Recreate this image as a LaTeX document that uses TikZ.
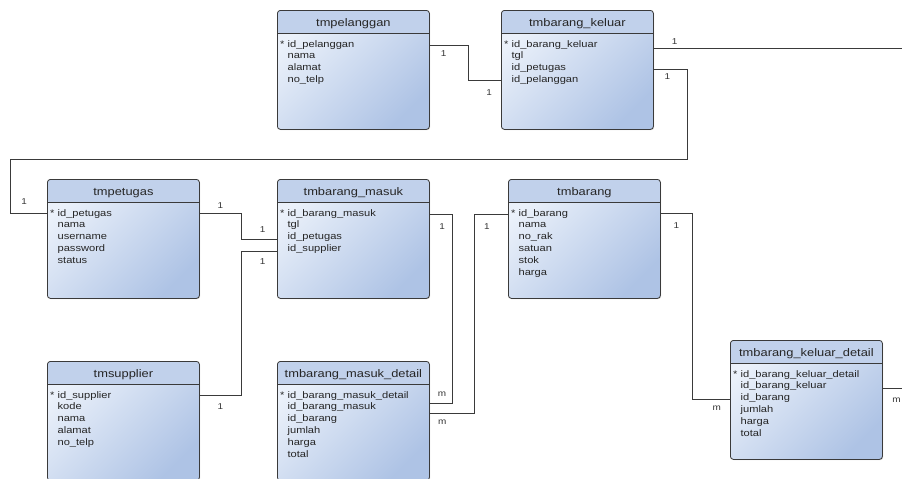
\documentclass[tikz,border=0pt]{standalone}
\usepackage{fontspec}
\setmainfont[FakeStretch=1.17]{Liberation Sans}
\usetikzlibrary{shadows}
\definecolor{garis}{RGB}{58,58,58}
\definecolor{kepala}{RGB}{193,209,235}
\definecolor{terang}{RGB}{235,241,250}
\definecolor{gelap}{RGB}{174,195,229}
\newcommand{\ind}{\hphantom{*~}}
\tikzset{font=\fontsize{9.5}{11.8}\selectfont,
  tabel/.style={draw=garis,line width=0.8pt,rounded corners=3pt,anchor=north west,
    minimum width=152pt,minimum height=119pt,inner sep=0pt,
    top color=terang,bottom color=gelap,shading angle=45,
    drop shadow={shadow xshift=0.8pt,shadow yshift=-0.8pt,opacity=0.35},
    path picture={
      \fill[kepala] (path picture bounding box.north west) rectangle ([yshift=-23pt]path picture bounding box.north east);
      \draw[garis,line width=0.8pt] ([yshift=-23pt]path picture bounding box.north west) -- ([yshift=-23pt]path picture bounding box.north east);}},
  judul/.style={font=\fontsize{11}{13}\selectfont,text=black!85,inner sep=0pt,anchor=base},
  kolom/.style={anchor=north west,align=left,inner sep=0pt,text=black!85},
  rel/.style={draw=garis,line width=0.7pt},
  lbl/.style={font=\fontsize{8.5}{10}\selectfont,inner sep=1pt,text=black!80}}

\begin{document}
\begin{tikzpicture}[x=1pt,y=-1pt]
\useasboundingbox (0,0) rectangle (902,479);
% tabel
\node[tabel] (pel) at (277,10) {};
\node[judul] (pelj) at ([yshift=-16.5pt]pel.north) {tmpelanggan};
\node[kolom] (pelk) at ([xshift=3pt,yshift=-30pt]pel.north west) {*~id\_pelanggan\\\ind nama\\\ind alamat\\\ind no\_telp};
\node[tabel] (kel) at (501,10) {};
\node[judul] (kelj) at ([yshift=-16.5pt]kel.north) {tmbarang\_keluar};
\node[kolom] (kelk) at ([xshift=3pt,yshift=-30pt]kel.north west) {*~id\_barang\_keluar\\\ind tgl\\\ind id\_petugas\\\ind id\_pelanggan};
\node[tabel] (pet) at (47,179) {};
\node[judul] (petj) at ([yshift=-16.5pt]pet.north) {tmpetugas};
\node[kolom] (petk) at ([xshift=3pt,yshift=-30pt]pet.north west) {*~id\_petugas\\\ind nama\\\ind username\\\ind password\\\ind status};
\node[tabel] (mas) at (277,179) {};
\node[judul] (masj) at ([yshift=-16.5pt]mas.north) {tmbarang\_masuk};
\node[kolom] (mask) at ([xshift=3pt,yshift=-30pt]mas.north west) {*~id\_barang\_masuk\\\ind tgl\\\ind id\_petugas\\\ind id\_supplier};
\node[tabel] (bar) at (508,179) {};
\node[judul] (barj) at ([yshift=-16.5pt]bar.north) {tmbarang};
\node[kolom] (bark) at ([xshift=3pt,yshift=-30pt]bar.north west) {*~id\_barang\\\ind nama\\\ind no\_rak\\\ind satuan\\\ind stok\\\ind harga};
\node[tabel] (sup) at (47,361) {};
\node[judul] (supj) at ([yshift=-16.5pt]sup.north) {tmsupplier};
\node[kolom] (supk) at ([xshift=3pt,yshift=-30pt]sup.north west) {*~id\_supplier\\\ind kode\\\ind nama\\\ind alamat\\\ind no\_telp};
\node[tabel] (masd) at (277,361) {};
\node[judul] (masdj) at ([yshift=-16.5pt]masd.north) {tmbarang\_masuk\_detail};
\node[kolom] (masdk) at ([xshift=3pt,yshift=-30pt]masd.north west) {*~id\_barang\_masuk\_detail\\\ind id\_barang\_masuk\\\ind id\_barang\\\ind jumlah\\\ind harga\\\ind total};
\node[tabel] (keld) at (730,340) {};
\node[judul] (keldj) at ([yshift=-16.5pt]keld.north) {tmbarang\_keluar\_detail};
\node[kolom] (keldk) at ([xshift=3pt,yshift=-30pt]keld.north west) {*~id\_barang\_keluar\_detail\\\ind id\_barang\_keluar\\\ind id\_barang\\\ind jumlah\\\ind harga\\\ind total};
\coordinate (kanan1) at (902,48);
\coordinate (kanan2) at (902,388);
% relasi
\draw[rel] (pel.east |- 0,45) -- node[lbl,pos=0.36,below=4pt] (r1a) {1} (468,45) -- (468,80)
  -- node[lbl,pos=0.64,below=8pt] (r1b) {1} (kel.west |- 0,80);
\draw[rel] (kel.east |- 0,48) -- node[lbl,pos=0.084,above=2pt] (r2a) {1} (kanan1);
\draw[rel] (kel.east |- 0,69) -- node[lbl,pos=0.41,below=3.7pt] (r3a) {1} (687,69) -- (687,159) -- (10,159) -- (10,213)
  -- node[lbl,pos=0.38,above=7.3pt] (r3b) {1} (pet.west |- 0,213);
\draw[rel] (pet.east |- 0,213) -- node[lbl,pos=0.5,above=3pt] (r4a) {1} (241,213) -- (241,239)
  -- node[lbl,pos=0.6,above=5pt] (r4b) {1} (mas.west |- 0,239);
\draw[rel] (sup.east |- 0,395) -- node[lbl,pos=0.5,below=7.7pt] (r5a) {1} (241,395) -- (241,251)
  -- node[lbl,pos=0.6,below=6.7pt] (r5b) {1} (mas.west |- 0,251);
\draw[rel] (mas.east |- 0,214) -- node[lbl,pos=0.55,below=8.7pt] (r6a) {1} (452,214) -- (452,403)
  -- node[lbl,pos=0.45,above=4.8pt] (r6b) {m} (masd.east |- 0,403);
\draw[rel] (bar.west |- 0,214) -- node[lbl,pos=0.62,below=8.7pt] (r7a) {1} (474,214) -- (474,413)
  -- node[lbl,pos=0.72,below=5.5pt] (r7b) {m} (masd.east |- 0,413);
\draw[rel] (bar.east |- 0,213) -- node[lbl,pos=0.5,below=8pt] (r8a) {1} (692,213) -- (692,399)
  -- node[lbl,pos=0.65,below=6pt] (r8b) {m} (keld.west |- 0,399);
\draw[rel] (keld.east |- 0,388) -- node[lbl,pos=0.71,below=8.8pt] (r9a) {m} (kanan2);
\end{tikzpicture}
\end{document}
